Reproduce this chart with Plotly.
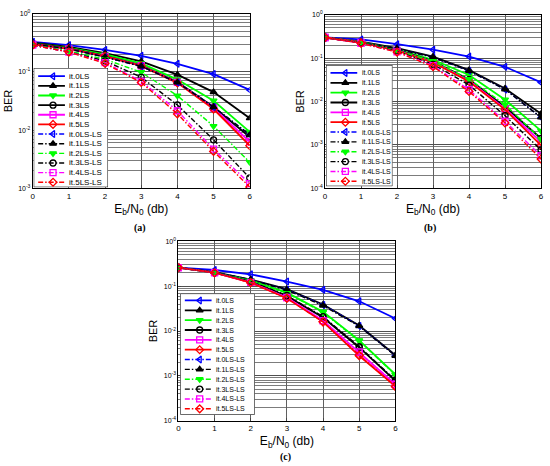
import plotly.graph_objects as go

# Eb/N0 axis (dB)
ebn0 = [0, 1, 2, 3, 4, 5, 6]

series_names = ["it.0LS", "it.1LS", "it.2LS", "it.3LS", "it.4LS", "it.5LS",
                "it.0LS-LS", "it.1LS-LS", "it.2LS-LS", "it.3LS-LS", "it.4LS-LS", "it.5LS-LS"]

# ---- panel (a) BER values
a_it0_ls = [0.33, 0.29, 0.24, 0.19, 0.138, 0.092, 0.049]
a_it1_ls = [0.32, 0.27, 0.21, 0.152, 0.090, 0.045, 0.016]
a_it2_ls = [0.31, 0.26, 0.20, 0.140, 0.074, 0.032, 0.0093]
a_it3_ls = [0.31, 0.255, 0.19, 0.130, 0.067, 0.025, 0.0076]
a_it4_ls = [0.30, 0.25, 0.185, 0.128, 0.066, 0.024, 0.0063]
a_it5_ls = [0.30, 0.25, 0.185, 0.127, 0.065, 0.023, 0.0054]
a_it0_lsls = [0.30, 0.25, 0.18, 0.125, 0.066, 0.025, 0.0083]
a_it1_lsls = [0.30, 0.25, 0.18, 0.125, 0.066, 0.025, 0.0083]
a_it2_lsls = [0.29, 0.23, 0.165, 0.099, 0.039, 0.0117, 0.0028]
a_it3_lsls = [0.29, 0.22, 0.155, 0.081, 0.027, 0.0068, 0.0015]
a_it4_lsls = [0.29, 0.22, 0.145, 0.069, 0.0215, 0.0047, 0.0012]
a_it5_lsls = [0.29, 0.22, 0.14, 0.066, 0.019, 0.0043, 0.00105]

# ---- panel (b) BER values
b_it0_ls = [0.30, 0.27, 0.21, 0.157, 0.109, 0.063, 0.0276]
b_it1_ls = [0.30, 0.24, 0.17, 0.109, 0.053, 0.020, 0.0052]
b_it2_ls = [0.30, 0.235, 0.16, 0.092, 0.041, 0.011, 0.0021]
b_it3_ls = [0.30, 0.23, 0.155, 0.085, 0.032, 0.0075, 0.0014]
b_it4_ls = [0.30, 0.23, 0.152, 0.082, 0.030, 0.0068, 0.00117]
b_it5_ls = [0.30, 0.23, 0.15, 0.080, 0.029, 0.0065, 0.00097]
b_it0_lsls = [0.30, 0.23, 0.165, 0.105, 0.051, 0.019, 0.0043]
b_it1_lsls = [0.30, 0.23, 0.165, 0.105, 0.051, 0.019, 0.0043]
b_it2_lsls = [0.30, 0.23, 0.15, 0.085, 0.033, 0.0085, 0.00135]
b_it3_lsls = [0.30, 0.225, 0.145, 0.072, 0.024, 0.0047, 0.00076]
b_it4_lsls = [0.30, 0.22, 0.14, 0.067, 0.0187, 0.0035, 0.00056]
b_it5_lsls = [0.30, 0.22, 0.138, 0.064, 0.017, 0.0032, 0.00047]

# ---- panel (c) BER values
c_it0_ls = [0.26, 0.23, 0.184, 0.127, 0.083, 0.046, 0.019]
c_it1_ls = [0.26, 0.205, 0.14, 0.086, 0.039, 0.0133, 0.0029]
c_it2_ls = [0.26, 0.20, 0.135, 0.072, 0.027, 0.0062, 0.00107]
c_it3_ls = [0.26, 0.20, 0.125, 0.060, 0.020, 0.0043, 0.00077]
c_it4_ls = [0.26, 0.20, 0.122, 0.056, 0.017, 0.0033, 0.00064]
c_it5_ls = [0.26, 0.20, 0.12, 0.054, 0.016, 0.0028, 0.00058]
c_it0_lsls = [0.26, 0.205, 0.14, 0.083, 0.038, 0.013, 0.0028]
c_it1_lsls = [0.26, 0.205, 0.14, 0.082, 0.037, 0.0128, 0.0028]
c_it2_lsls = [0.26, 0.20, 0.134, 0.070, 0.026, 0.006, 0.00105]
c_it3_lsls = [0.26, 0.20, 0.128, 0.062, 0.021, 0.0045, 0.0008]
c_it4_lsls = [0.26, 0.20, 0.122, 0.056, 0.017, 0.0034, 0.00065]
c_it5_lsls = [0.26, 0.20, 0.12, 0.054, 0.016, 0.0029, 0.00058]

panel_a = [a_it0_ls, a_it1_ls, a_it2_ls, a_it3_ls, a_it4_ls, a_it5_ls,
           a_it0_lsls, a_it1_lsls, a_it2_lsls, a_it3_lsls, a_it4_lsls, a_it5_lsls]
panel_b = [b_it0_ls, b_it1_ls, b_it2_ls, b_it3_ls, b_it4_ls, b_it5_ls,
           b_it0_lsls, b_it1_lsls, b_it2_lsls, b_it3_lsls, b_it4_lsls, b_it5_lsls]
panel_c = [c_it0_ls, c_it1_ls, c_it2_ls, c_it3_ls, c_it4_ls, c_it5_ls,
           c_it0_lsls, c_it1_lsls, c_it2_lsls, c_it3_lsls, c_it4_lsls, c_it5_lsls]

x_ticks = [0, 1, 2, 3, 4, 5, 6]
y_exps = [0, -1, -2, -3, -4]
y_ticklabels = ["10<sup>0</sup>", "10<sup>-1</sup>", "10<sup>-2</sup>", "10<sup>-3</sup>", "10<sup>-4</sup>"]

# styles
colors = ["#0000ff", "#000000", "#00ff00", "#000000", "#ff00ff", "#ff0000"]
symbols = ["triangle-left-open", "triangle-up", "triangle-down", "circle-open", "square-open", "diamond-open"]
dashdot = "5px,2px,1.5px,2px"
W, H = 550, 466
FONT = "Liberation Sans, Arial, sans-serif"

# pixel boxes: plot area (left, right, top, bottom), lowest exponent,
# legend box (left, right, top, bottom) + row paddings, panel label pos
panels = [
    dict(data=panel_a, box=(31, 250, 10, 187), ymin=-3, leg=(32, 107, 65, 186), pad=(8.3, 5),
         lfont=8, label="(a)", lab=(139, 227)),
    dict(data=panel_b, box=(326, 544, 11, 187), ymin=-4, leg=(327, 394, 62, 185), pad=(8, 5),
         lfont=7, label="(b)", lab=(432, 227)),
    dict(data=panel_c, box=(178, 397, 241, 423), ymin=-4, leg=(180, 255, 294, 417), pad=(7, 6),
         lfont=7, label="(c)", lab=(286, 460)),
]

def px_x(v):
    return v / W

def px_y(v):
    return 1 - v / H

fig = go.Figure()
layout = dict(width=W, height=H, margin=dict(l=0, r=0, t=0, b=0),
              paper_bgcolor="white", plot_bgcolor="white", showlegend=False,
              font=dict(family=FONT, size=8, color="black"))
annotations = []
shapes = []

for k, p in enumerate(panels):
    n = k + 1
    sx = "" if n == 1 else str(n)
    l, r, t, b = p["box"]
    for i, ys in enumerate(p["data"]):
        fig.add_trace(go.Scatter(
            x=ebn0, y=ys, mode="lines+markers", name=series_names[i],
            xaxis="x" + sx, yaxis="y" + sx,
            line=dict(color=colors[i % 6], width=1.8 if i < 6 else 1.4,
                      dash="solid" if i < 6 else dashdot),
            marker=dict(symbol=symbols[i % 6], size=6, color=colors[i % 6],
                        line=dict(width=1.3, color=colors[i % 6]))))
    minor_vals = [m * 10 ** e for e in range(p["ymin"], 0) for m in range(2, 10)]
    tv = [10 ** e for e in y_exps if e >= p["ymin"]]
    tt = [y_ticklabels[j] for j, e in enumerate(y_exps) if e >= p["ymin"]]
    layout["xaxis" + sx] = dict(
        domain=[px_x(l), px_x(r)], anchor="y" + sx, range=[0, 6],
        tickmode="array", tickvals=x_ticks, ticks="inside", ticklen=3,
        showgrid=True, gridcolor="#5f5f5f", gridwidth=0.9,
        showline=True, linecolor="black", linewidth=1, mirror=True, zeroline=False,
        tickfont=dict(size=8),
        title=dict(text="E<sub>b</sub>/N<sub>0</sub> (db)", font=dict(size=12), standoff=4))
    layout["yaxis" + sx] = dict(
        domain=[px_y(b), px_y(t)], anchor="x" + sx, type="log", range=[p["ymin"], 0],
        tickmode="array", tickvals=tv, ticktext=tt, ticks="inside", ticklen=3,
        showgrid=True, gridcolor="#505050", gridwidth=0.9,
        minor=dict(tickmode="array", tickvals=minor_vals, showgrid=True,
                   gridcolor="#7c7c7c", gridwidth=0.8, ticks=""),
        showline=True, linecolor="black", linewidth=1, mirror=True, zeroline=False,
        tickfont=dict(size=7),
        title=dict(text="BER", font=dict(size=11), standoff=3))

    # hand-drawn legend on its own pixel-unit axes
    m = n + 3
    ll, lr, lt, lb = p["leg"]
    lw, lh = lr - ll, lb - lt
    ptop, pbot = p["pad"]
    layout["xaxis%d" % m] = dict(domain=[px_x(ll), px_x(lr)], anchor="y%d" % m,
                                 range=[0, lw], visible=False, fixedrange=True)
    layout["yaxis%d" % m] = dict(domain=[px_y(lb), px_y(lt)], anchor="x%d" % m,
                                 range=[lh, 0], visible=False, fixedrange=True)
    shapes.append(dict(type="rect", xref="x%d" % m, yref="y%d" % m, x0=0, x1=lw, y0=0, y1=lh,
                       fillcolor="white", line=dict(color="black", width=1), layer="below"))
    row_h = (lh - ptop - pbot) / 11.0
    for i, name in enumerate(series_names):
        ry = ptop + i * row_h
        fig.add_trace(go.Scatter(
            x=[4.5, 31.5], y=[ry, ry], mode="lines", xaxis="x%d" % m, yaxis="y%d" % m,
            line=dict(color=colors[i % 6], width=1.8 if i < 6 else 1.4,
                      dash="solid" if i < 6 else dashdot), hoverinfo="skip"))
        fig.add_trace(go.Scatter(
            x=[19.5], y=[ry], mode="markers", xaxis="x%d" % m, yaxis="y%d" % m,
            marker=dict(symbol=symbols[i % 6], size=6, color=colors[i % 6],
                        line=dict(width=1.3, color=colors[i % 6])), hoverinfo="skip"))
        annotations.append(dict(text=name, xref="x%d" % m, yref="y%d" % m, x=34, y=ry,
                                xanchor="left", yanchor="middle", showarrow=False,
                                font=dict(family=FONT, size=p["lfont"], color="black")))

    annotations.append(dict(text="<b>" + p["label"] + "</b>", xref="paper", yref="paper",
                            x=px_x(p["lab"][0]), y=px_y(p["lab"][1]),
                            xanchor="center", yanchor="middle", showarrow=False,
                            font=dict(family="Liberation Serif, Times New Roman, serif", size=10)))

layout["annotations"] = annotations
layout["shapes"] = shapes
fig.update_layout(**layout)
# page body margin would push the 550x466 figure off the window
fig.write_html("out.html", config={"displayModeBar": False},
               post_script="document.body.style.margin='0px';")
